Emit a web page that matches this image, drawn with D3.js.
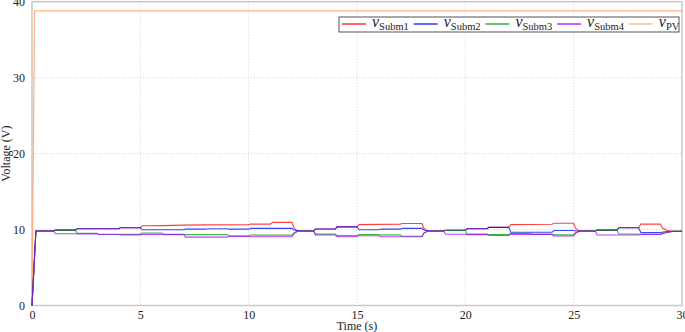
<!DOCTYPE html>
<html>
<head>
<meta charset="utf-8">
<script src="https://cdn.jsdelivr.net/npm/d3@7"></script>
<style>
  body { margin: 0; background: #fff; }
  svg { display: block; }
  text { font-family: "Liberation Serif", "Times New Roman", serif; fill: #222; }
</style>
</head>
<body>
<div id="chart"></div>
<script>
// time (s), voltage (V) pairs
var vSubm1 = [[0,0],[0.18,9.8],[1,9.8],[1.08,9.93],[2,9.93],[2.08,10.1],[4,10.1],[4.08,10.24],[5,10.24],[5.1,10.5],[6,10.52],[7,10.58],[8,10.62],[10,10.65],[10.08,10.72],[11,10.72],[11.1,10.95],[12,10.95],[12.08,10.3],[12.2,9.9],[12.4,9.8],[13,9.8],[13.08,10.07],[14,10.07],[14.08,10.35],[15,10.35],[15.1,10.65],[17,10.72],[17.08,10.8],[18,10.8],[18.08,10.2],[18.2,9.9],[18.4,9.8],[19,9.8],[19.08,9.9],[20,9.9],[20.08,10.1],[21,10.1],[21.08,10.29],[22,10.29],[22.1,10.65],[24,10.7],[24.08,10.82],[25,10.82],[25.08,10.2],[25.2,9.9],[25.4,9.8],[26,9.8],[26.08,9.93],[27,9.93],[27.08,10.24],[28,10.24],[28.1,10.72],[29,10.72],[29.1,10.2],[29.3,9.9],[29.5,9.78],[30,9.76]];
var vSubm2 = [[0,0],[0.18,9.8],[1,9.8],[1.08,9.93],[2,9.93],[2.08,10.1],[4,10.1],[4.08,10.24],[5,10.24],[5.1,9.97],[7,9.97],[7.1,10.05],[8,10.05],[8.1,10.1],[9,10.1],[9.1,10.05],[10,10.05],[10.1,10.15],[12,10.15],[12.1,9.95],[12.3,9.8],[13,9.8],[13.08,10.07],[14,10.07],[14.08,10.35],[15,10.35],[15.1,9.97],[16,9.97],[16.1,10.05],[17,10.05],[17.1,10.15],[18,10.15],[18.1,9.95],[18.3,9.8],[19,9.8],[19.08,9.9],[20,9.9],[20.08,10.1],[21,10.1],[21.08,10.29],[22,10.29],[22.1,9.65],[24,9.65],[24.1,9.88],[25,9.88],[25.1,9.8],[26,9.8],[26.08,9.93],[27,9.93],[27.08,10.24],[28,10.24],[28.1,9.62],[29,9.62],[29.2,9.72],[29.5,9.76],[30,9.76]];
var vSubm3 = [[0,0],[0.18,9.8],[1,9.8],[1.08,9.93],[2,9.93],[2.08,9.5],[3,9.5],[3.08,9.38],[5,9.38],[5.08,9.55],[6,9.55],[6.08,9.33],[9,9.33],[9.08,9.18],[10,9.18],[10.08,9.27],[12,9.27],[12.1,9.6],[12.3,9.8],[13,9.8],[13.08,9.4],[14,9.4],[14.08,9.2],[15,9.2],[15.08,9.35],[16,9.35],[16.08,9.3],[17,9.3],[17.08,9.12],[18,9.12],[18.1,9.6],[18.3,9.8],[19,9.8],[19.08,9.9],[20,9.9],[20.08,9.4],[21,9.4],[21.08,9.35],[22,9.35],[22.08,9.5],[23,9.5],[23.08,9.37],[24,9.37],[24.08,9.3],[25,9.3],[25.1,9.6],[25.3,9.8],[26,9.8],[26.08,9.93],[27,9.93],[27.08,9.42],[28,9.42],[28.08,9.4],[29,9.4],[29.2,9.65],[29.5,9.76],[30,9.76]];
var vSubm4 = [[0,0],[0.18,9.8],[1,9.8],[1.08,9.45],[2,9.45],[2.08,9.42],[3,9.42],[3.08,9.35],[4,9.35],[4.08,9.3],[5,9.3],[5.08,9.37],[7,9.37],[7.08,9.0],[9,9.0],[9.08,9.08],[10,9.08],[10.08,9.05],[12,9.05],[12.1,9.5],[12.3,9.8],[13,9.8],[13.08,9.28],[14,9.28],[14.08,9.05],[15,9.05],[15.08,9.18],[16,9.18],[16.08,9.05],[18,9.05],[18.1,9.55],[18.3,9.8],[19,9.8],[19.08,9.38],[20,9.38],[20.08,9.33],[21,9.33],[21.08,9.22],[22,9.22],[22.08,9.37],[24,9.37],[24.08,9.15],[25,9.15],[25.1,9.55],[25.3,9.8],[26,9.8],[26.08,9.28],[28,9.28],[28.08,9.35],[29,9.35],[29.3,9.6],[29.6,9.74],[30,9.76]];
var vPV = [[0,0],[0.12,38.8],[30,38.8]];

var seriesNames = ["Subm1", "Subm2", "Subm3", "Subm4", "PV"];
var seriesColors = ["#ff0000", "#0000ff", "#00a000", "#a000ff", "#ffaa77"];
var seriesData = [vSubm1, vSubm2, vSubm3, vSubm4, vPV];

var xTicks = [0, 5, 10, 15, 20, 25, 30];
var yTicks = [0, 10, 20, 30, 40];

var width = 685, height = 332;
var pLeft = 32, pRight = 682, pTop = 1.7, pBottom = 305.5;

var svg = d3.select("#chart").append("svg")
    .attr("width", width)
    .attr("height", height);

var x = d3.scaleLinear().domain([0, 30]).range([pLeft, pRight]);
var y = d3.scaleLinear().domain([0, 40]).range([pBottom, pTop]);

// grid
svg.append("g").selectAll("line")
    .data(xTicks.slice(1, -1))
    .enter().append("line")
    .attr("x1", function(d){ return x(d); })
    .attr("x2", function(d){ return x(d); })
    .attr("y1", pTop).attr("y2", pBottom)
    .attr("stroke", "#cfcfcf")
    .attr("stroke-dasharray", "1,2");
svg.append("g").selectAll("line")
    .data(yTicks.slice(1, -1))
    .enter().append("line")
    .attr("x1", pLeft).attr("x2", pRight)
    .attr("y1", function(d){ return y(d); })
    .attr("y2", function(d){ return y(d); })
    .attr("stroke", "#cfcfcf")
    .attr("stroke-dasharray", "1,2");

// axes (labels only, no ticks)
var xAxis = svg.append("g")
    .attr("transform", "translate(0," + pBottom + ")")
    .call(d3.axisBottom(x).tickValues(xTicks).tickSize(0).tickPadding(5));
var yAxis = svg.append("g")
    .attr("transform", "translate(" + pLeft + ",0)")
    .call(d3.axisLeft(y).tickValues(yTicks).tickSize(0).tickPadding(7));
[xAxis, yAxis].forEach(function(a){
    a.select(".domain").remove();
    a.selectAll("text")
        .style("font-family", "'Liberation Serif', serif")
        .style("font-size", "12px")
        .attr("fill", "#222");
});

// frame
svg.append("rect")
    .attr("x", pLeft).attr("y", pTop)
    .attr("width", pRight - pLeft).attr("height", pBottom - pTop)
    .attr("fill", "none")
    .attr("stroke", "#c8c8c8")
    .attr("stroke-width", 1.5);

svg.append("text")
    .attr("x", (pLeft + pRight) / 2).attr("y", 330)
    .attr("text-anchor", "middle")
    .style("font-size", "12px")
    .text("Time (s)");
svg.append("text")
    .attr("transform", "translate(10," + ((pTop + pBottom) / 2) + ") rotate(-90)")
    .attr("text-anchor", "middle")
    .style("font-size", "12px")
    .text("Voltage (V)");

// traces
var line = d3.line()
    .x(function(d){ return x(d[0]); })
    .y(function(d){ return y(d[1]); });

var order = [4, 0, 1, 2, 3];
svg.append("g").selectAll("path")
    .data(order)
    .enter().append("path")
    .attr("d", function(i){ return line(seriesData[i]); })
    .attr("fill", "none")
    .attr("stroke", function(i){ return seriesColors[i]; })
    .attr("stroke-width", function(i){ return i == 4 ? 1.3 : 1.1; })
    .attr("stroke-opacity", function(i){ return i == 4 ? 0.9 : 0.75; });

// legend
var legX = 339, legY = 17, legW = 340, legH = 15, step = 71.7;
var legend = svg.append("g");
legend.append("rect")
    .attr("x", legX).attr("y", legY)
    .attr("width", legW).attr("height", legH)
    .attr("fill", "#fff")
    .attr("stroke", "#555")
    .attr("stroke-width", 1);

var item = legend.selectAll("g.item")
    .data(seriesNames)
    .enter().append("g")
    .attr("class", "item")
    .attr("transform", function(d, i){ return "translate(" + (legX + 3 + i * step) + "," + (legY + 7) + ")"; });
item.append("line")
    .attr("x1", 0).attr("x2", 24)
    .attr("stroke", function(d, i){ return seriesColors[i]; })
    .attr("stroke-width", 1.2);
var lab = item.append("text")
    .attr("x", 30).attr("y", 3);
lab.append("tspan")
    .style("font-style", "italic")
    .style("font-size", "16px")
    .text("v");
lab.append("tspan")
    .attr("dy", 2.5)
    .style("font-size", "10.5px")
    .text(function(d){ return d; });
</script>
</body>
</html>
